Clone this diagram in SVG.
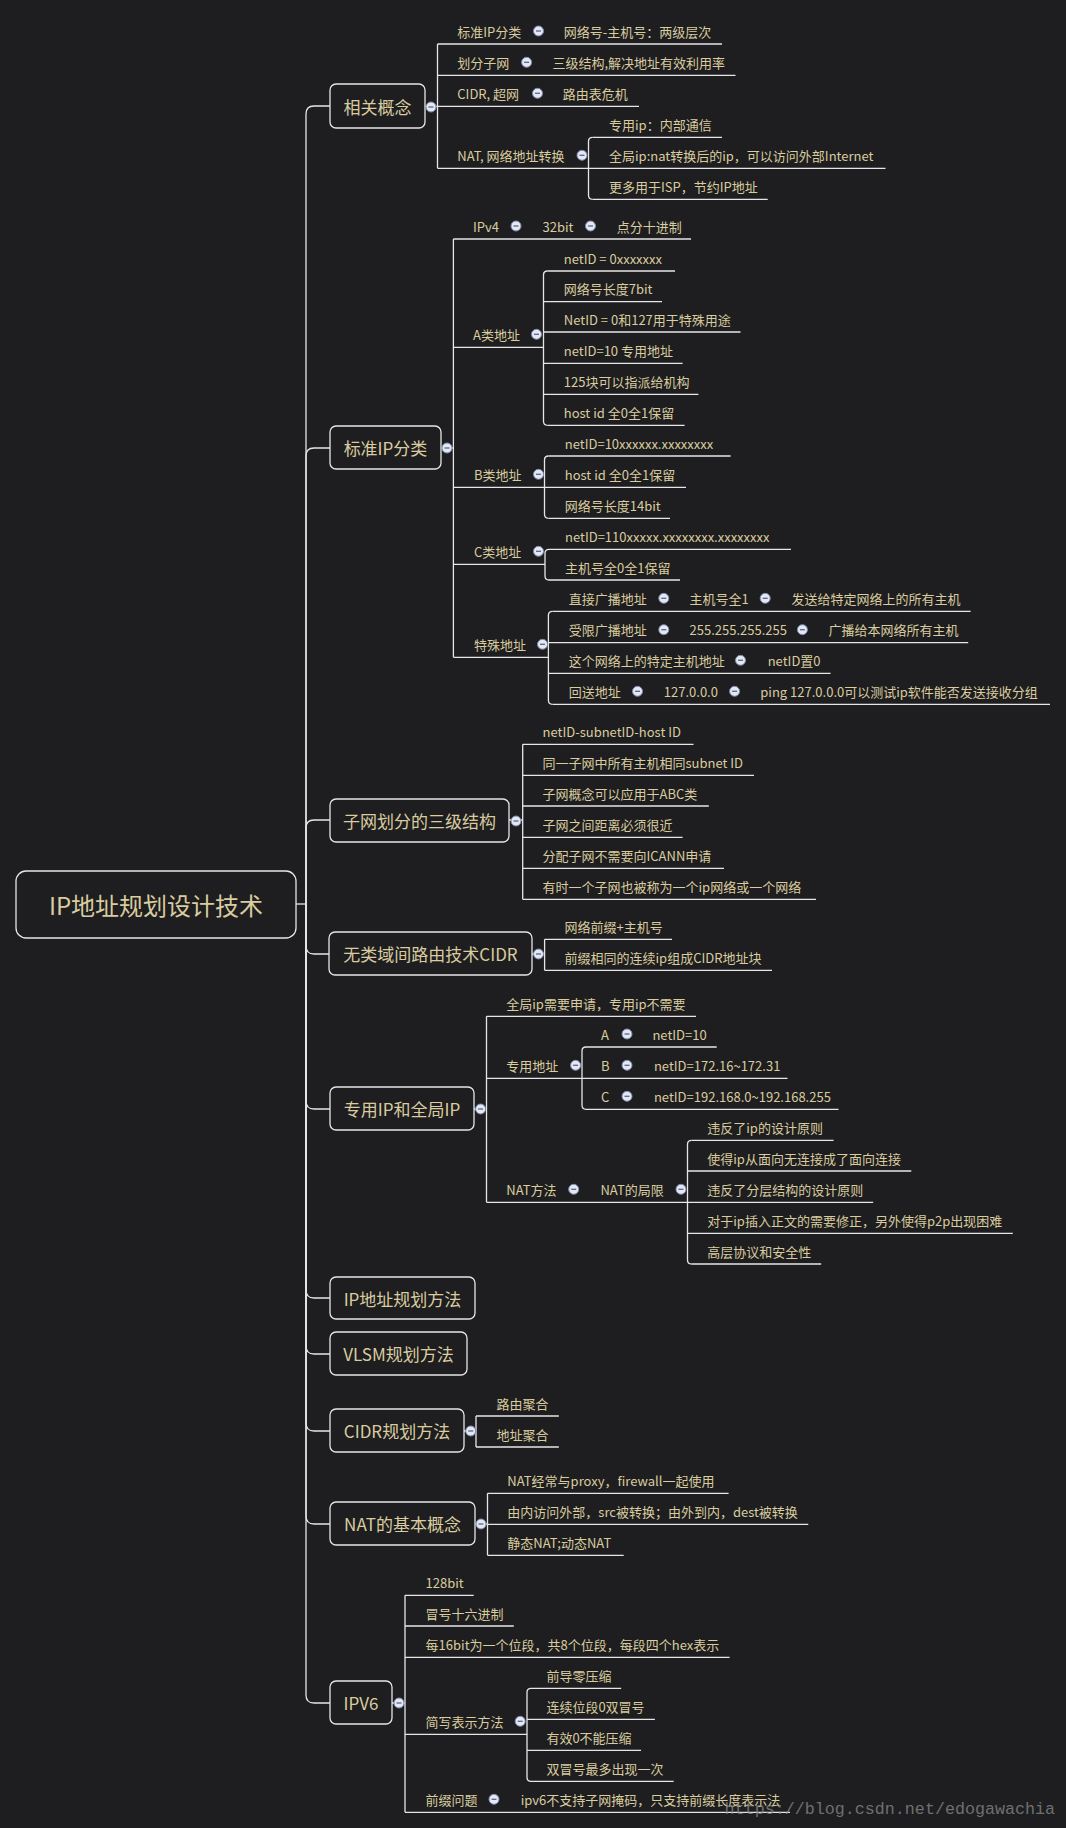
<svg xmlns="http://www.w3.org/2000/svg" xmlns:xlink="http://www.w3.org/1999/xlink" width="1066" height="1828" viewBox="0 0 1066 1828">
<style>
.t{font-family:"Noto Sans CJK SC","Noto Sans",sans-serif;fill:#d9cc9e;font-size:13px;dominant-baseline:central}
.t1{font-size:17px;text-anchor:middle}
.t0{font-size:24px;text-anchor:middle}
.ln{stroke:#e6e6e6;stroke-width:1.3;fill:none}
.box{fill:#1e1e21;stroke:#e6e6e6;stroke-width:1.3}
.wm{font-family:"Liberation Mono",monospace;font-size:16.7px;fill:#8a8a8a;opacity:0.75}
</style>
<defs>
<g id="tg"><circle r="5" fill="#e3e8f3" stroke="#7c89ad" stroke-width="1"/><line x1="-2.5" x2="2.5" y1="0" y2="0" stroke="#5d6684" stroke-width="1.3"/></g>
</defs>
<rect width="1066" height="1828" fill="#1e1e21"/>

<g id="connectors" class="ln">
<path d="M296 904H306"/>
<path d="M306 904V114Q306 106 314 106H330"/>
<path d="M306 904V456Q306 448 314 448H330"/>
<path d="M306 904V828Q306 820 314 820H330"/>
<path d="M306 904V946Q306 954 314 954H329"/>
<path d="M306 904V1101Q306 1109 314 1109H330"/>
<path d="M306 904V1290Q306 1298 314 1298H330"/>
<path d="M306 904V1346Q306 1354 314 1354H330"/>
<path d="M306 904V1423Q306 1431 314 1431H330"/>
<path d="M306 904V1516Q306 1524 314 1524H330"/>
<path d="M306 904V1695Q306 1703 314 1703H330"/>
<!-- level1 to level2 -->
<path d="M425 106.3H437.5M437.5 44V168.3"/>
<path d="M441 448H453.4M453.4 239V657.3"/>
<path d="M509 820H522.7M522.7 744.3V899.3"/>
<path d="M532 954H544.6M544.6 939.3V970.3"/>
<path d="M474 1109H486.5M486.5 1016.3V1202.3"/>
<path d="M464 1431H476M476 1416V1447"/>
<path d="M475 1524H487.5M487.5 1493.3V1555.3"/>
<path d="M392 1703H405M405 1595.3V1812.3"/>
<!-- level2 to level3 rounded -->
<path d="M592.5 137.3Q588.5 137.3 588.5 141.3V195.3Q588.5 199.3 592.5 199.3"/>
<path d="M547.5 271Q543.5 271 543.5 275V421.3Q543.5 425.3 547.5 425.3"/>
<path d="M548.5 456Q544.5 456 544.5 460V514.3Q544.5 518.3 548.5 518.3"/>
<path d="M549 549.3Q545 549.3 545 553.3V576Q545 580 549 580"/>
<path d="M552.4 611.3Q548.4 611.3 548.4 615.3V700.3Q548.4 704.3 552.4 704.3"/>
<path d="M586 1047Q582 1047 582 1051V1105.3Q582 1109.3 586 1109.3"/>
<path d="M691.5 1140.3Q687.5 1140.3 687.5 1144.3V1260Q687.5 1264 691.5 1264"/>
<path d="M531 1688.3Q527 1688.3 527 1692.3V1777.3Q527 1781.3 531 1781.3"/>
</g>

<g id="root"><rect class="box" x="16" y="871" width="280" height="67" rx="10"/><text class="t t0" x="156" y="904.5">IP地址规划设计技术</text></g>

<g id="n1"><rect class="box" x="330" y="84" width="95" height="44" rx="6"/><text class="t t1" x="377.5" y="106">相关概念</text><use xlink:href="#tg" x="431" y="107"/></g>
<g id="n2"><rect class="box" x="330" y="426" width="111" height="43" rx="6"/><text class="t t1" x="385.5" y="447.5">标准IP分类</text><use xlink:href="#tg" x="447" y="448"/></g>
<g id="n3"><rect class="box" x="330" y="799" width="179" height="43" rx="6"/><text class="t t1" x="419.5" y="820.5">子网划分的三级结构</text><use xlink:href="#tg" x="516" y="821"/></g>
<g id="n4"><rect class="box" x="329" y="932" width="203" height="43" rx="6"/><text class="t t1" x="430.5" y="953.5">无类域间路由技术CIDR</text><use xlink:href="#tg" x="538.5" y="954"/></g>
<g id="n5"><rect class="box" x="330" y="1087" width="144" height="43" rx="6"/><text class="t t1" x="402" y="1108.5">专用IP和全局IP</text><use xlink:href="#tg" x="480.6" y="1109"/></g>
<g id="n6"><rect class="box" x="330" y="1277" width="145" height="42" rx="6"/><text class="t t1" x="402.5" y="1298">IP地址规划方法</text></g>
<g id="n7"><rect class="box" x="330" y="1332" width="137" height="43" rx="6"/><text class="t t1" x="398.5" y="1353.5">VLSM规划方法</text></g>
<g id="n8"><rect class="box" x="330" y="1409" width="134" height="43" rx="6"/><text class="t t1" x="397" y="1430.5">CIDR规划方法</text><use xlink:href="#tg" x="470.7" y="1431"/></g>
<g id="n9"><rect class="box" x="330" y="1502" width="145" height="43" rx="6"/><text class="t t1" x="402.5" y="1523.5">NAT的基本概念</text><use xlink:href="#tg" x="481" y="1524"/></g>
<g id="n10"><rect class="box" x="330" y="1681" width="62" height="43" rx="6"/><text class="t t1" x="361" y="1702.5">IPV6</text><use xlink:href="#tg" x="399" y="1703"/></g>

<!-- 相关概念 children -->
<g id="n1-1"><path class="ln" d="M437.5 44H722"/><text class="t" x="457.3" y="31">标准IP分类</text><use xlink:href="#tg" x="538.5" y="31"/><text class="t" x="563.8" y="31">网络号-主机号：两级层次</text></g>
<g id="n1-2"><path class="ln" d="M437.5 75.3H735.5"/><text class="t" x="457.3" y="62.3">划分子网</text><use xlink:href="#tg" x="526.6" y="62.3"/><text class="t" x="552.4" y="62.3">三级结构,解决地址有效利用率</text></g>
<g id="n1-3"><path class="ln" d="M437.5 106.3H639"/><text class="t" x="457.3" y="93.3">CIDR, 超网</text><use xlink:href="#tg" x="537.5" y="93.3"/><text class="t" x="562.8" y="93.3">路由表危机</text></g>
<g id="n1-4"><path class="ln" d="M437.5 168.3H885.5"/><text class="t" x="457.3" y="155.3">NAT, 网络地址转换</text><use xlink:href="#tg" x="582" y="155.3"/></g>
<g id="n1-4-1"><path class="ln" d="M592.5 137.3H722"/><text class="t" x="609" y="124.3">专用ip：内部通信</text></g>
<g id="n1-4-2"><text class="t" x="609" y="155.3">全局ip:nat转换后的ip，可以访问外部Internet</text></g>
<g id="n1-4-3"><path class="ln" d="M592.5 199.3H767.7"/><text class="t" x="609" y="186.3">更多用于ISP，节约IP地址</text></g>

<!-- 标准IP分类 children -->
<g id="n2-1"><path class="ln" d="M453.4 239H691"/><text class="t" x="473" y="226">IPv4</text><use xlink:href="#tg" x="516" y="226"/><text class="t" x="542.5" y="226">32bit</text><use xlink:href="#tg" x="590.5" y="226"/><text class="t" x="616.7" y="226">点分十进制</text></g>
<g id="n2-2"><path class="ln" d="M453.4 347.3H543.5"/><text class="t" x="473" y="334.3">A类地址</text><use xlink:href="#tg" x="536.5" y="334.3"/></g>
<g id="n2-2-c" class="ln">
<path d="M547.5 271H675M543.5 301.7H662M543.5 332H740.5M543.5 363.3H682.6M543.5 394.3H698.4M547.5 425.3H684.6"/>
</g>
<g id="n2-2-t">
<text class="t" x="563.8" y="258">netID = 0xxxxxxx</text>
<text class="t" x="563.8" y="288.7">网络号长度7bit</text>
<text class="t" x="563.8" y="319">NetID = 0和127用于特殊用途</text>
<text class="t" x="563.8" y="350.3">netID=10 专用地址</text>
<text class="t" x="563.8" y="381.3">125块可以指派给机构</text>
<text class="t" x="563.8" y="412.3">host id 全0全1保留</text>
</g>
<g id="n2-3"><path class="ln" d="M453.4 487.3H544.5"/><text class="t" x="474" y="474.3">B类地址</text><use xlink:href="#tg" x="538.5" y="474.3"/></g>
<g id="n2-3-c">
<path class="ln" d="M548.5 456H730.6M544.5 487.3H686M548.5 518.3H670"/>
<text class="t" x="564.8" y="443">netID=10xxxxxx.xxxxxxxx</text>
<text class="t" x="564.8" y="474.3">host id 全0全1保留</text>
<text class="t" x="564.8" y="505.3">网络号长度14bit</text>
</g>
<g id="n2-4"><path class="ln" d="M453.4 564.3H545"/><text class="t" x="474" y="551.3">C类地址</text><use xlink:href="#tg" x="538.5" y="551.3"/></g>
<g id="n2-4-c">
<path class="ln" d="M549 549.3H791M549 580H680"/>
<text class="t" x="565" y="536.3">netID=110xxxxx.xxxxxxxx.xxxxxxxx</text>
<text class="t" x="565" y="567">主机号全0全1保留</text>
</g>
<g id="n2-5"><path class="ln" d="M453.4 657.3H548.4"/><text class="t" x="474" y="644.3">特殊地址</text><use xlink:href="#tg" x="542.5" y="644.3"/></g>
<g id="n2-5-1"><path class="ln" d="M552.4 611.3H970.7"/><text class="t" x="568.7" y="598.3">直接广播地址</text><use xlink:href="#tg" x="663.8" y="598.3"/><text class="t" x="689.5" y="598.3">主机号全1</text><use xlink:href="#tg" x="765.2" y="598.3"/><text class="t" x="791.5" y="598.3">发送给特定网络上的所有主机</text></g>
<g id="n2-5-2"><path class="ln" d="M548.4 642.7H968.2"/><text class="t" x="568.7" y="629.7">受限广播地址</text><use xlink:href="#tg" x="663.8" y="629.7"/><text class="t" x="689.5" y="629.7">255.255.255.255</text><use xlink:href="#tg" x="802.4" y="629.7"/><text class="t" x="828.6" y="629.7">广播给本网络所有主机</text></g>
<g id="n2-5-3"><path class="ln" d="M548.4 673.3H830.6"/><text class="t" x="568.7" y="660.3">这个网络上的特定主机地址</text><use xlink:href="#tg" x="740.5" y="660.3"/><text class="t" x="767.7" y="660.3">netID置0</text></g>
<g id="n2-5-4"><path class="ln" d="M552.4 704.3H1050"/><text class="t" x="568.7" y="691.3">回送地址</text><use xlink:href="#tg" x="637.5" y="691.3"/><text class="t" x="663.8" y="691.3">127.0.0.0</text><use xlink:href="#tg" x="734.6" y="691.3"/><text class="t" x="760.3" y="691.3">ping 127.0.0.0可以测试ip软件能否发送接收分组</text></g>

<!-- 子网划分 children -->
<g id="n3-c">
<path class="ln" d="M522.7 744.3H693.5M522.7 775.3H754M522.7 806H708.8M522.7 837.3H682.6M522.7 868.3H724M522.7 899.3H816"/>
<text class="t" x="542.5" y="731.3">netID-subnetID-host ID</text>
<text class="t" x="542.5" y="762.3">同一子网中所有主机相同subnet ID</text>
<text class="t" x="542.5" y="793">子网概念可以应用于ABC类</text>
<text class="t" x="542.5" y="824.3">子网之间距离必须很近</text>
<text class="t" x="542.5" y="855.3">分配子网不需要向ICANN申请</text>
<text class="t" x="542.5" y="886.3">有时一个子网也被称为一个ip网络或一个网络</text>
</g>

<!-- 无类域间 children -->
<g id="n4-c">
<path class="ln" d="M544.6 939.3H672M544.6 970.3H772"/>
<text class="t" x="564.5" y="926.3">网络前缀+主机号</text>
<text class="t" x="564.5" y="957.3">前缀相同的连续ip组成CIDR地址块</text>
</g>

<!-- 专用IP和全局IP children -->
<g id="n5-1"><path class="ln" d="M486.5 1016.3H696"/><text class="t" x="506.3" y="1003.3">全局ip需要申请，专用ip不需要</text></g>
<g id="n5-2"><path class="ln" d="M486.5 1078.3H582"/><text class="t" x="506.3" y="1065.3">专用地址</text><use xlink:href="#tg" x="575.6" y="1065.3"/></g>
<g id="n5-2-c">
<path class="ln" d="M586 1047H716.7M582 1078.3H787.5M586 1109.3H838.5"/>
<text class="t" x="601" y="1034">A</text><use xlink:href="#tg" x="627" y="1034"/><text class="t" x="652.4" y="1034">netID=10</text>
<text class="t" x="601" y="1065.3">B</text><use xlink:href="#tg" x="627" y="1065.3"/><text class="t" x="653.9" y="1065.3">netID=172.16~172.31</text>
<text class="t" x="601" y="1096.3">C</text><use xlink:href="#tg" x="627" y="1096.3"/><text class="t" x="653.9" y="1096.3">netID=192.168.0~192.168.255</text>
</g>
<g id="n5-3"><path class="ln" d="M486.5 1202.3H687.5"/><text class="t" x="506.3" y="1189.3">NAT方法</text><use xlink:href="#tg" x="573.7" y="1189.3"/><text class="t" x="600.4" y="1189.3">NAT的局限</text><use xlink:href="#tg" x="681" y="1189.3"/></g>
<g id="n5-3-c">
<path class="ln" d="M691.5 1140.3H833.6M687.5 1171H911.3M687.5 1202.3H873.2M687.5 1233.3H1012.8M691.5 1264H821.2"/>
<text class="t" x="707.3" y="1127.3">违反了ip的设计原则</text>
<text class="t" x="707.3" y="1158">使得ip从面向无连接成了面向连接</text>
<text class="t" x="707.3" y="1189.3">违反了分层结构的设计原则</text>
<text class="t" x="707.3" y="1220.3">对于ip插入正文的需要修正，另外使得p2p出现困难</text>
<text class="t" x="707.3" y="1251">高层协议和安全性</text>
</g>

<!-- CIDR规划方法 children -->
<g id="n8-c">
<path class="ln" d="M476 1416H558.8M476 1447H558.8"/>
<text class="t" x="496.4" y="1403">路由聚合</text>
<text class="t" x="496.4" y="1434">地址聚合</text>
</g>

<!-- NAT的基本概念 children -->
<g id="n9-c">
<path class="ln" d="M487.5 1493.3H728.6M487.5 1524.3H808.3M487.5 1555.3H623.7"/>
<text class="t" x="507.3" y="1480.3">NAT经常与proxy，firewall一起使用</text>
<text class="t" x="507.3" y="1511.3">由内访问外部，src被转换；由外到内，dest被转换</text>
<text class="t" x="507.3" y="1542.3">静态NAT;动态NAT</text>
</g>

<!-- IPV6 children -->
<g id="n10-c">
<path class="ln" d="M405 1595.3H473.7M405 1626H513.8M405 1657.3H729.6"/>
<text class="t" x="425.6" y="1582.3">128bit</text>
<text class="t" x="425.6" y="1613">冒号十六进制</text>
<text class="t" x="425.6" y="1644.3">每16bit为一个位段，共8个位段，每段四个hex表示</text>
</g>
<g id="n10-4"><path class="ln" d="M405 1734.3H527"/><text class="t" x="425.6" y="1721.3">简写表示方法</text><use xlink:href="#tg" x="520.2" y="1721.3"/></g>
<g id="n10-4-c">
<path class="ln" d="M531 1688.3H621.2M527 1719.3H654.9M527 1750.3H641M531 1781.3H673.7"/>
<text class="t" x="546.4" y="1675.3">前导零压缩</text>
<text class="t" x="546.4" y="1706.3">连续位段0双冒号</text>
<text class="t" x="546.4" y="1737.3">有效0不能压缩</text>
<text class="t" x="546.4" y="1768.3">双冒号最多出现一次</text>
</g>
<g id="n10-5"><path class="ln" d="M405 1812.3H790"/><text class="t" x="425.6" y="1799.3">前缀问题</text><use xlink:href="#tg" x="494" y="1799.3"/><text class="t" x="520.7" y="1799.3">ipv6不支持子网掩码，只支持前缀长度表示法</text></g>

<text class="wm" x="724.6" y="1814">https://blog.csdn.net/edogawachia</text>
</svg>
